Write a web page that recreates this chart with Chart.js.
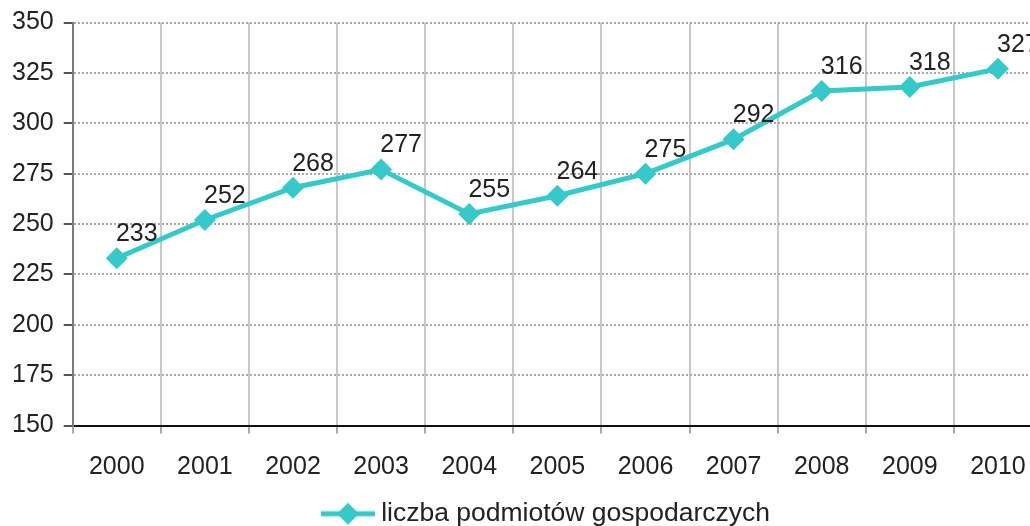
<!DOCTYPE html>
<html>
<head>
<meta charset="utf-8">
<script src="https://cdn.jsdelivr.net/npm/chart.js@4/dist/chart.umd.min.js"></script>
<style>
    html, body { margin: 0; padding: 0; background: #fff; overflow: hidden; }
    #wrap { width: 1030px; height: 526px; overflow: hidden; }
</style>
</head>
<body>
<div id="wrap">
    <canvas id="firmsChart" width="1094" height="526"></canvas>
</div>
<script>
var years = ['2000', '2001', '2002', '2003', '2004', '2005', '2006', '2007', '2008', '2009', '2010'];
var firms = [233, 252, 268, 277, 255, 264, 275, 292, 316, 318, 327];
var seriesName = 'liczba podmiotów gospodarczych';

var lineColor = '#35c9c9';
var font = 'Liberation Sans, Arial, sans-serif';

// legend marker: line with diamond (a bit wider than the legend box)
var marker = document.createElement('canvas');
marker.width = 78;
marker.height = 24;
var mctx = marker.getContext('2d');
mctx.strokeStyle = lineColor;
mctx.lineWidth = 5;
mctx.beginPath();
mctx.moveTo(19, 12);
mctx.lineTo(73, 12);
mctx.stroke();
mctx.fillStyle = lineColor;
mctx.beginPath();
mctx.moveTo(46, 1);
mctx.lineTo(57, 12);
mctx.lineTo(46, 23);
mctx.lineTo(35, 12);
mctx.closePath();
mctx.fill();

var valueLabels = {
    id: 'valueLabels',
    afterLayout: function (chart) {
        // legend is centred on the whole picture, not on the plot
        chart.legend.left += 20;
        chart.legend.right += 20;
    },
    afterDatasetsDraw: function (chart) {
        var ctx = chart.ctx;
        var meta = chart.getDatasetMeta(0);
        ctx.save();
        ctx.font = '25px ' + font;
        ctx.fillStyle = '#222';
        ctx.textAlign = 'center';
        ctx.textBaseline = 'middle';
        meta.data.forEach(function (pt, i) {
            ctx.fillText(firms[i], pt.x + 20, pt.y - 24);
        });
        ctx.restore();
    }
};

var ctx = document.getElementById('firmsChart');
var chart = new Chart(ctx, {
    type: 'line',
    data: {
        labels: years,
        datasets: [{
            label: seriesName,
            data: firms,
            borderColor: lineColor,
            backgroundColor: lineColor,
            borderWidth: 5,
            tension: 0,
            pointStyle: 'rectRot',
            pointRadius: 11,
            pointHoverRadius: 11,
            pointBorderWidth: 0
        }]
    },
    options: {
        responsive: false,
        devicePixelRatio: 1,
        animation: false,
        layout: {
            padding: { top: 8, left: 2, right: 52, bottom: -11 }
        },
        scales: {
            x: {
                offset: true,
                grid: {
                    offset: true,
                    color: '#c8c8c8',
                    lineWidth: 2,
                    tickLength: 8,
                    tickColor: '#a8a8a8',
                    tickWidth: 2
                },
                border: { color: '#111', width: 2 },
                ticks: {
                    color: '#222',
                    padding: 19,
                    font: { family: font, size: 25 },
                    maxRotation: 0
                },
                afterFit: function (scale) {
                    scale.height -= 1;
                }
            },
            y: {
                min: 150,
                max: 350,
                ticks: {
                    stepSize: 25,
                    color: '#222',
                    padding: 10,
                    font: { family: font, size: 25, lineHeight: 1 }
                },
                grid: {
                    color: '#a8a8a8',
                    lineWidth: 2,
                    tickLength: 9,
                    tickColor: '#555',
                    tickWidth: 2,
                    tickBorderDash: []
                },
                border: { color: '#7a7a7a', width: 2, dash: [2, 2] }
            }
        },
        plugins: {
            legend: {
                position: 'bottom',
                labels: {
                    usePointStyle: true,
                    pointStyle: marker,
                    pointStyleWidth: 54,
                    color: '#222',
                    padding: 0,
                    font: { family: font, size: 26.5 }
                }
            },
            tooltip: { enabled: false }
        }
    },
    plugins: [valueLabels]
});
</script>
</body>
</html>
